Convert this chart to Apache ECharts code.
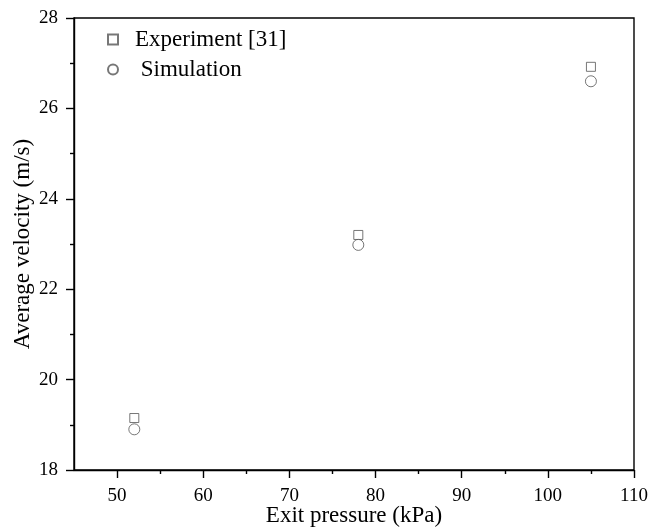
<!DOCTYPE html>
<html>
<head>
<meta charset="utf-8">
<script src="https://cdn.jsdelivr.net/npm/echarts@6/dist/echarts.min.js"></script>
<style>html,body{margin:0;padding:0;background:#fff}#c{width:649px;height:530px}</style>
</head>
<body>
<div id="c"></div>
<script>
var pressure = [52, 78, 105];
var experiment = [19.15, 23.2, 26.92];
var simulation = [18.9, 22.98, 26.6];
var xTicks = [50, 60, 70, 80, 90, 100, 110];
var xMinorTicks = [55, 65, 75, 85, 95, 105];
var yTicks = [18, 20, 22, 24, 26, 28];

var font = 'Liberation Serif';
var chart = echarts.init(document.getElementById('c'));
function pairs(xs, ys){ return xs.map(function(x,i){ return [x, ys[i]]; }); }
var lineSt = { color: '#000', width: 1.4 };
chart.setOption({
  animation: false,
  backgroundColor: '#fff',
  grid: { left: 74, right: 15, top: 18, bottom: 60, outerBoundsMode: 'none', containLabel: false,
    show: true, borderColor: '#000', borderWidth: 1.4, backgroundColor: 'transparent' },
  legend: {
    orient: 'vertical', left: 102, top: 23, itemWidth: 10, itemHeight: 10, itemGap: 7,
    textStyle: { fontFamily: font, fontSize: 23, color: '#000', padding: [0,0,0,12] },
    formatter: function(n){ return n === 'Simulation' ? ' Simulation' : n; },
    data: ['Experiment [31]', 'Simulation']
  },
  xAxis: [{
    type: 'value', min: 45, max: 110, interval: 5, position: 'bottom',
    name: 'Exit pressure (kPa)', nameLocation: 'middle', nameGap: 34, nameMoveOverlap: false,
    nameTextStyle: { fontFamily: font, fontSize: 23, color: '#000' },
    axisLine: { lineStyle: lineSt },
    axisTick: { show: true, length: 8, customValues: xTicks, lineStyle: lineSt },
    axisLabel: { fontFamily: font, fontSize: 19, color: '#000', margin: 17, customValues: xTicks },
    splitLine: { show: false }
  }, {
    type: 'value', min: 45, max: 110, interval: 5, position: 'bottom', offset: 0,
    axisLine: { show: false },
    axisTick: { show: true, length: 4, customValues: xMinorTicks, lineStyle: lineSt },
    axisLabel: { show: false },
    splitLine: { show: false }
  }],
  yAxis: {
    type: 'value', min: 18, max: 28, interval: 2,
    name: 'Average velocity (m/s)', nameLocation: 'middle', nameGap: 40, nameMoveOverlap: false,
    nameTextStyle: { fontFamily: font, fontSize: 23, color: '#000' },
    axisLine: { show: true, lineStyle: lineSt },
    axisTick: { show: true, length: 8, lineStyle: lineSt },
    minorTick: { show: true, splitNumber: 2, length: 4, lineStyle: lineSt },
    axisLabel: { fontFamily: font, fontSize: 19, color: '#000', margin: 16 },
    splitLine: { show: false }
  },
  series: [
    { name: 'Experiment [31]', type: 'scatter', symbol: 'rect', symbolSize: 9, xAxisIndex: 0,
      itemStyle: { color: '#fff', borderColor: '#555', borderWidth: 1 },
      data: pairs(pressure, experiment) },
    { name: 'Simulation', type: 'scatter', symbol: 'circle', symbolSize: 11, xAxisIndex: 0,
      itemStyle: { color: '#fff', borderColor: '#555', borderWidth: 1 },
      data: pairs(pressure, simulation) }
  ]
});
</script>
</body>
</html>
